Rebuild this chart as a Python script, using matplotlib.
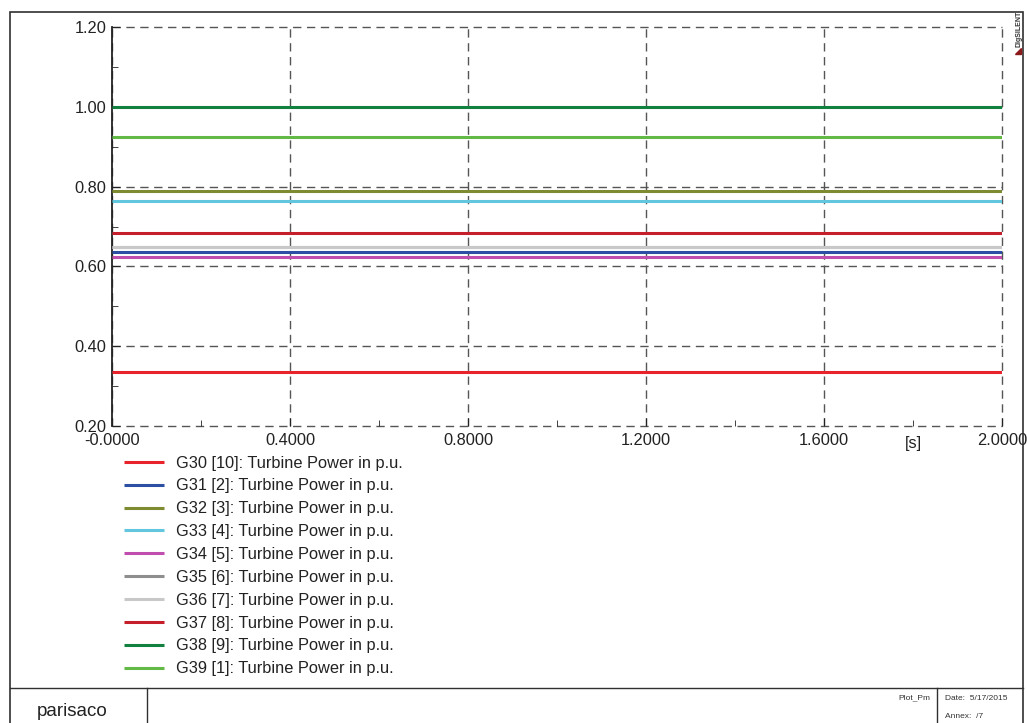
import matplotlib.pyplot as plt
import numpy as np
from matplotlib.patches import Rectangle, Polygon
from matplotlib.lines import Line2D

plt.rcParams['font.family'] = ['Liberation Sans', 'DejaVu Sans']

# simulation time window [s]
t_start, t_end = 0.0, 2.0

# generator labels, turbine power (p.u.) and colours
labels = ["G30 [10]", "G31 [2]", "G32 [3]", "G33 [4]", "G34 [5]",
          "G35 [6]", "G36 [7]", "G37 [8]", "G38 [9]", "G39 [1]"]
power = [0.335, 0.636, 0.788, 0.765, 0.624, 0.648, 0.648, 0.684, 1.000, 0.924]
colors = ["#e8232b", "#2d4fa3", "#7f8b30", "#62c6de", "#c04eae",
          "#8e8e8e", "#c8c8c8", "#c41f2a", "#12803f", "#63b945"]

xticks = [0.0, 0.4, 0.8, 1.2, 1.6, 2.0]
xtick_labels = ["-0.0000", "0.4000", "0.8000", "1.2000", "1.6000", "2.0000"]
yticks = [0.2, 0.4, 0.6, 0.8, 1.0, 1.2]

fig = plt.figure(figsize=(10.27, 7.23), dpi=100)
W, H = 1027, 723

def fx(px):
    return px / W

def fy(py):
    return 1 - py / H

# page frame and footer
fig.add_artist(Rectangle((fx(10), fy(740)), fx(1023) - fx(10), fy(12) - fy(740),
                         transform=fig.transFigure, fill=False, ec="#303030", lw=1.2))
fig.add_artist(Line2D([fx(10), fx(1023)], [fy(688), fy(688)], transform=fig.transFigure,
                      color="#303030", lw=1.0))
for xp in [147, 937]:
    fig.add_artist(Line2D([fx(xp), fx(xp)], [fy(688), 0], transform=fig.transFigure,
                          color="#303030", lw=1.0))
fig.text(fx(37), fy(711), "parisaco", fontsize=13.5, va="center", color="#222222")
fig.text(fx(930), fy(698), "Plot_Pm", fontsize=6, ha="right", va="center", color="#333333")
fig.text(fx(945), fy(698), "Date:  5/17/2015", fontsize=6, va="center", color="#333333")
fig.text(fx(945), fy(716), "Annex:  /7", fontsize=6, va="center", color="#333333")

# DIgSILENT mark
fig.text(fx(1019), fy(29), "DIgSILENT", fontsize=5, rotation=90, ha="center", va="center",
         color="#333333", fontweight="bold")
fig.add_artist(Polygon([[fx(1015), fy(54)], [fx(1021), fy(54)], [fx(1021), fy(48)]],
                       transform=fig.transFigure, color="#8b1a1a"))

ax = fig.add_axes([fx(112), fy(426), fx(1002) - fx(112), fy(27) - fy(426)])

t = np.array([t_start, t_end])
for lab, p, c in zip(labels, power, colors):
    ax.plot(t, [p, p], color=c, lw=2.2, solid_capstyle="butt",
            label=lab + ": Turbine Power in p.u.", zorder=3)

ax.set_xlim(t_start, t_end)
ax.set_ylim(0.2, 1.2)
ax.set_xticks(xticks)
ax.set_xticklabels(xtick_labels)
ax.set_xticks([0.2, 0.6, 1.0, 1.4, 1.8], minor=True)
ax.set_yticks(yticks)
ax.set_yticklabels([f"{v:.2f}" for v in yticks])
ax.set_yticks([0.3, 0.5, 0.7, 0.9, 1.1], minor=True)
ax.tick_params(axis="both", which="major", direction="in", length=6, labelsize=11.8,
               colors="#222222")
ax.tick_params(axis="x", which="major", pad=5)
ax.tick_params(axis="y", which="major", pad=4)
ax.tick_params(axis="both", which="minor", direction="in", length=4, colors="#222222")
ax.text(1.8, -0.024, "[s]", transform=ax.get_xaxis_transform(), ha="center", va="top",
        fontsize=11.8, color="#222222")

for s in ["top", "right", "bottom"]:
    ax.spines[s].set_visible(False)
ax.spines["left"].set_color("#222222")
ax.spines["left"].set_linewidth(1.3)

for xv in xticks:
    ax.axvline(xv, color="#555555", lw=1.0, dashes=(6, 4), clip_on=False, zorder=1)
for yv in yticks:
    ax.axhline(yv, color="#555555", lw=1.0, dashes=(6, 4), clip_on=False, zorder=1)

leg = fig.legend(loc="upper left", bbox_to_anchor=(fx(117), fy(449)), frameon=False,
                 fontsize=11.8, handlelength=2.44, handletextpad=0.73, labelspacing=0.48,
                 borderaxespad=0)
for txt in leg.get_texts():
    txt.set_color("#222222")

fig.savefig("out.png", dpi=100)
